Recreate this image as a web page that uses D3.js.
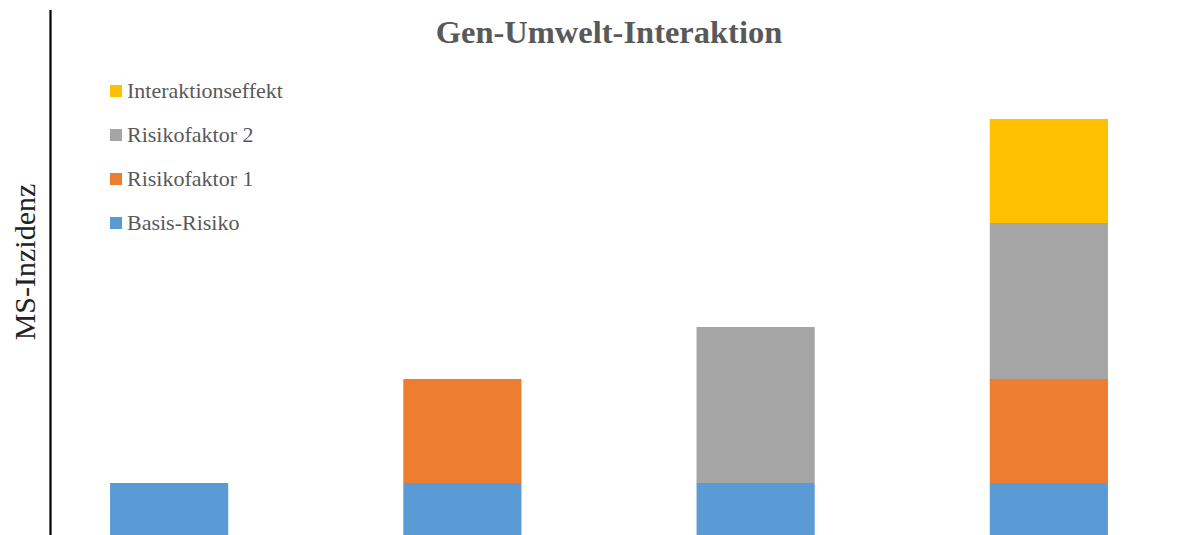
<!DOCTYPE html>
<html>
<head>
<meta charset="utf-8">
<script src="https://cdn.jsdelivr.net/npm/d3@7/dist/d3.min.js"></script>
<style>
  html, body { margin: 0; padding: 0; background: #ffffff; }
  svg { display: block; }
</style>
</head>
<body>
<svg id="chart" width="1193" height="535"></svg>
<script>
// Scenarios along the x axis
const categories = ["Keiner", "Nur Risikofaktor 1", "Nur Risikofaktor 2", "Beide Risikofaktoren"];
// Stacked components (bottom to top)
const seriesNames = ["Basis-Risiko", "Risikofaktor 1", "Risikofaktor 2", "Interaktionseffekt"];
const basisRisiko = [1, 1, 1, 1];
const risikofaktor1 = [0, 2, 0, 2];
const risikofaktor2 = [0, 0, 3, 3];
const interaktionseffekt = [0, 0, 0, 2];
const colors = ["#5B9BD5", "#ED7D31", "#A5A5A5", "#FFC000"];

const svg = d3.select("#chart");
const W = 1193, H = 535;

const rows = categories.map((c, i) => ({
  cat: c,
  "Basis-Risiko": basisRisiko[i],
  "Risikofaktor 1": risikofaktor1[i],
  "Risikofaktor 2": risikofaktor2[i],
  "Interaktionseffekt": interaktionseffekt[i]
}));

const stacked = d3.stack().keys(seriesNames)(rows);

const x = d3.scaleBand()
  .domain(categories)
  .range([52, 1166])
  .paddingInner(0.597)
  .paddingOuter(0.198);

const y = d3.scaleLinear()
  .domain([0, 10])
  .range([535, 15]);

const color = d3.scaleOrdinal().domain(seriesNames).range(colors);

// Bars
svg.append("g")
  .selectAll("g")
  .data(stacked)
  .join("g")
  .attr("fill", d => color(d.key))
  .selectAll("rect")
  .data(d => d.filter(p => p[1] - p[0] > 0))
  .join("rect")
  .attr("x", d => x(d.data.cat))
  .attr("width", x.bandwidth())
  .attr("y", d => y(d[1]))
  .attr("height", d => y(d[0]) - y(d[1]));

// Vertical axis line (no ticks)
svg.append("line")
  .attr("x1", 50.5).attr("x2", 50.5)
  .attr("y1", 10).attr("y2", H)
  .attr("stroke", "#000")
  .attr("stroke-width", 2.2);

// Y axis title
svg.append("text")
  .attr("transform", "translate(35,262) rotate(-90)")
  .attr("text-anchor", "middle")
  .attr("font-family", "'Liberation Serif', 'Times New Roman', serif")
  .attr("font-size", 30)
  .attr("fill", "#222")
  .text("MS-Inzidenz");

// Chart title
svg.append("text")
  .attr("x", 609)
  .attr("y", 43)
  .attr("text-anchor", "middle")
  .attr("font-family", "'Liberation Serif', 'Times New Roman', serif")
  .attr("font-weight", "bold")
  .attr("font-size", 32.5)
  .attr("fill", "#595959")
  .text("Gen-Umwelt-Interaktion");

// Legend (top series first)
const legendItems = seriesNames.slice().reverse();
const legend = svg.append("g")
  .attr("font-family", "'Liberation Serif', 'Times New Roman', serif")
  .attr("font-size", 22)
  .attr("fill", "#595959");

legendItems.forEach((name, i) => {
  const cy = 91 + i * 44;
  legend.append("rect")
    .attr("x", 110).attr("y", cy - 6)
    .attr("width", 12).attr("height", 12)
    .attr("fill", color(name));
  legend.append("text")
    .attr("x", 127).attr("y", cy + 7)
    .text(name);
});
</script>
</body>
</html>
